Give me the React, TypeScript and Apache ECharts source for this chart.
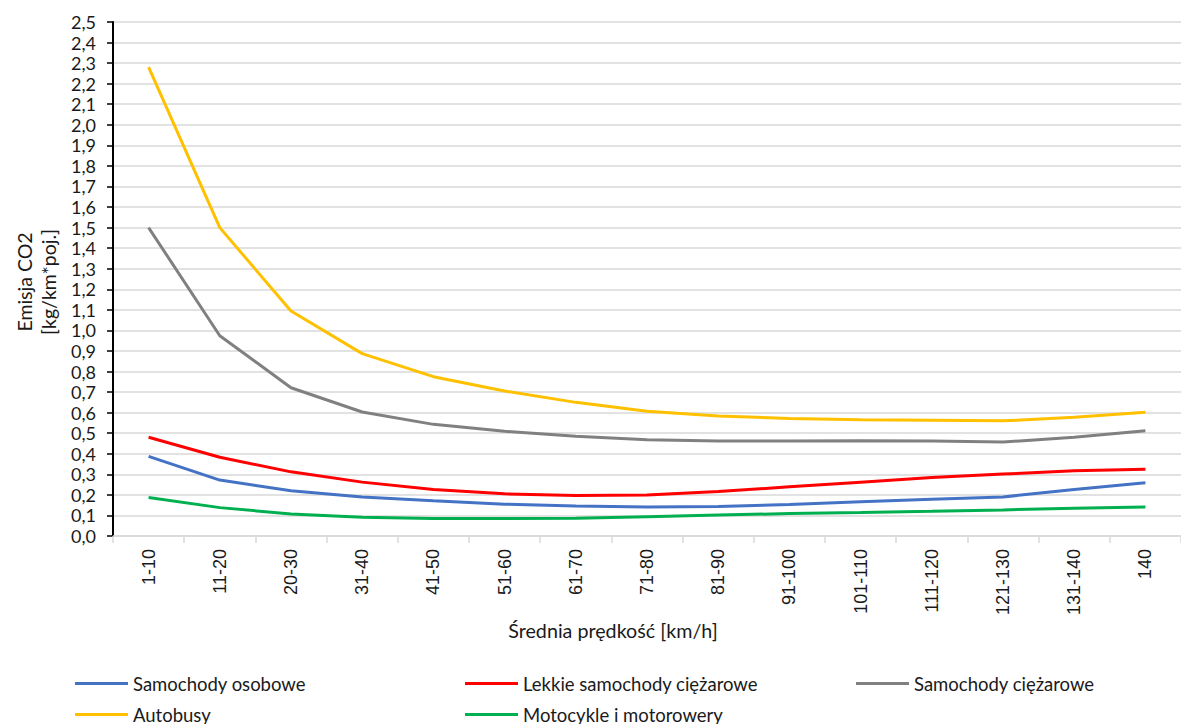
import React, { useEffect, useRef } from "react";
import * as echarts from "echarts";

const categories = ["1-10","11-20","20-30","31-40","41-50","51-60","61-70","71-80","81-90","91-100","101-110","111-120","121-130","131-140","140"];
const osobowe = [0.387,0.272,0.22,0.19,0.171,0.155,0.146,0.141,0.143,0.153,0.167,0.179,0.19,0.226,0.259];
const lekkie = [0.48,0.383,0.312,0.262,0.226,0.205,0.197,0.2,0.216,0.239,0.262,0.284,0.301,0.317,0.325];
const ciezarowe = [1.5,0.974,0.721,0.603,0.543,0.509,0.485,0.468,0.462,0.462,0.463,0.462,0.457,0.48,0.512];
const autobusy = [2.28,1.5,1.094,0.887,0.775,0.705,0.65,0.607,0.584,0.572,0.566,0.563,0.56,0.577,0.602];
const motocykle = [0.187,0.138,0.107,0.091,0.085,0.085,0.086,0.094,0.102,0.109,0.114,0.12,0.127,0.135,0.141];
const yTicks = { min: 0, max: 2.5, interval: 0.1 };

const FONT = "Lato";

export default function App() {
  const ref = useRef<HTMLDivElement>(null);
  useEffect(() => {
    if (!ref.current) return;
    const chart = echarts.init(ref.current, null, { renderer: "svg" });
    const mk = (name: string, data: number[], color: string) => ({
      name, type: "line", data, symbol: "none", smooth: false,
      lineStyle: { color, width: 3 }, itemStyle: { color },
    });
    const legendItem = (name: string, left: number, top: number) => ({
      data: [name], left, top, icon: "rect", itemWidth: 53, itemHeight: 3, itemGap: 0,
      textStyle: { fontFamily: FONT, fontSize: 18.5, color: "#1a1a1a" },
      padding: 0,
    });
    chart.setOption({
      animation: false,
      grid: { left: 113, top: 22, width: 1081, height: 514 },
      xAxis: {
        type: "category", data: categories, boundaryGap: true,
        axisLine: { lineStyle: { color: "#d9d9d9", width: 1.5 } },
        axisTick: { show: true, length: 7, lineStyle: { color: "#d9d9d9", width: 1.5 } },
        axisLabel: { rotate: 90, margin: 13, fontFamily: "Liberation Sans", fontSize: 18, color: "#1a1a1a" },
        splitLine: { show: false },
      },
      yAxis: {
        type: "value", min: yTicks.min, max: yTicks.max, interval: yTicks.interval,
        axisLine: { show: true, lineStyle: { color: "#000", width: 2 } },
        axisTick: { show: true, length: 6, lineStyle: { color: "#000", width: 1.5 } },
        axisLabel: { margin: 17, fontFamily: FONT, fontSize: 18, color: "#1a1a1a",
          formatter: (v: number) => v.toFixed(1).replace(".", ",") },
        splitLine: { lineStyle: { color: "#d9d9d9", width: 1.5 } },
      },
      legend: [
        legendItem("Samochody osobowe", 75, 674),
        legendItem("Lekkie samochody ciężarowe", 465, 674),
        legendItem("Samochody ciężarowe", 856, 674),
        legendItem("Autobusy", 75, 705),
        legendItem("Motocykle i motorowery", 465, 705),
      ],
      graphic: [
        { type: "text", x: 36, y: 282, rotation: Math.PI / 2,
          style: { text: "Emisja CO2\n[kg/km*poj.]", fontFamily: FONT, fontSize: 19.5, fill: "#1a1a1a",
            align: "center", verticalAlign: "middle", lineHeight: 24 } },
        { type: "text", x: 613, y: 630,
          style: { text: "Średnia prędkość [km/h]", fontFamily: FONT, fontSize: 19.7, fill: "#1a1a1a",
            align: "center", verticalAlign: "middle" } },
      ],
      series: [
        mk("Samochody osobowe", osobowe, "#4472C4"),
        mk("Lekkie samochody ciężarowe", lekkie, "#FF0000"),
        mk("Samochody ciężarowe", ciezarowe, "#808080"),
        mk("Autobusy", autobusy, "#FFC000"),
        mk("Motocykle i motorowery", motocykle, "#00B050"),
      ],
    });
    return () => chart.dispose();
  }, []);
  return <div ref={ref} style={{ position: "fixed", left: 0, top: 0, width: 1181, height: 724, background: "#fff" }} />;
}
